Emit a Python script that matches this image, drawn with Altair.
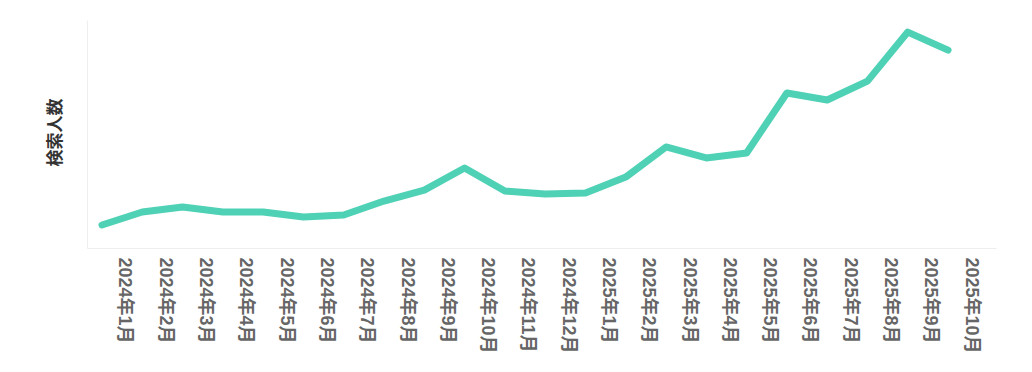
import json
import altair as alt
import pandas as pd

months = [
    "2024年1月", "2024年2月", "2024年3月", "2024年4月", "2024年5月", "2024年6月",
    "2024年7月", "2024年8月", "2024年9月", "2024年10月", "2024年11月", "2024年12月",
    "2025年1月", "2025年2月", "2025年3月", "2025年4月", "2025年5月", "2025年6月",
    "2025年7月", "2025年8月", "2025年9月", "2025年10月",
]
values = [
    10.1, 15.8, 18.0, 15.8, 15.8, 13.6, 14.5, 20.6, 25.4, 35.1, 25.0, 23.7,
    24.1, 31.1, 44.3, 39.5, 41.7, 68.0, 64.9, 73.2, 94.7, 86.8,
]

df = pd.DataFrame({"idx": list(range(len(months))), "month": months, "value": values})

label_expr = json.dumps(months, ensure_ascii=False) + "[datum.value]"
FONT = "Liberation Sans, Noto Sans CJK JP, sans-serif"

chart = (
    alt.Chart(df)
    .mark_line(color="#4fd1b5", strokeWidth=7, strokeCap="round", strokeJoin="round")
    .encode(
        x=alt.X(
            "idx:Q",
            scale=alt.Scale(domain=[-0.372, 22.19], nice=False, zero=False),
            axis=alt.Axis(
                title=None,
                values=list(range(len(months))),
                labelExpr=label_expr,
                labelAngle=90,
                labelAlign="left",
                labelBaseline="middle",
                labelPadding=9,
                labelOffset=22,
                labelOverlap=False,
                labelFlush=False,
                labelFont=FONT,
                labelFontSize=18,
                labelFontWeight="bold",
                labelColor="#666666",
                ticks=False,
                grid=False,
                domainColor="#eeeeee",
                domainWidth=1,
            ),
        ),
        y=alt.Y(
            "value:Q",
            scale=alt.Scale(domain=[0, 100], nice=False),
            axis=alt.Axis(
                title="検索人数",
                labels=False,
                ticks=False,
                grid=False,
                domainColor="#eeeeee",
                domainWidth=1,
                titleFont=FONT,
                titleFontSize=17,
                titleFontWeight="bold",
                titleColor="#333333",
                titleAngle=-90,
                titleX=-32,
                titleY=112,
                titleAlign="center",
                titleBaseline="middle",
            ),
        ),
    )
    .properties(
        width=909,
        height=228,
        background="white",
        autosize=alt.AutoSizeParams(type="none"),
        padding={"left": 87, "top": 20, "right": 36, "bottom": 124},
    )
    .configure_view(strokeWidth=0, stroke="transparent")
)

chart.save("out.html", embed_options={"renderer": "svg", "actions": False})
